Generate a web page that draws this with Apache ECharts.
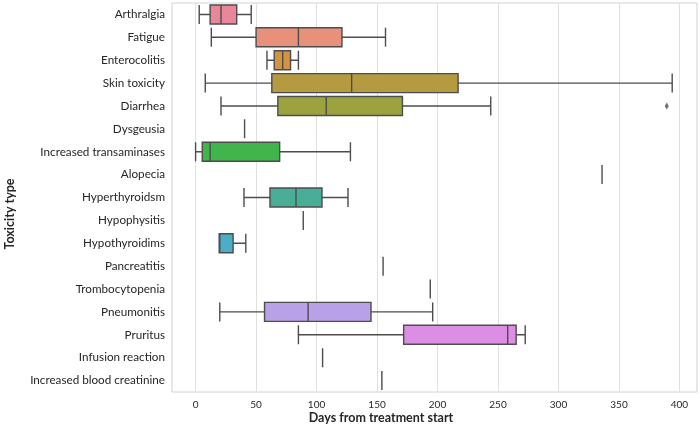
<!DOCTYPE html>
<html>
<head>
<meta charset="utf-8">
<script src="https://cdn.jsdelivr.net/npm/echarts@6/dist/echarts.min.js"></script>
<style>
    html, body { margin: 0; padding: 0; background: #fff; }
    #chart { width: 700px; height: 426px; }
</style>
</head>
<body>
<div id="chart"></div>
<script>
    // toxicity types, top to bottom
    var categories = ['Arthralgia', 'Fatigue', 'Enterocolitis', 'Skin toxicity', 'Diarrhea', 'Dysgeusia',
        'Increased transaminases', 'Alopecia', 'Hyperthyroidsm', 'Hypophysitis', 'Hypothyroidims',
        'Pancreatitis', 'Trombocytopenia', 'Pneumonitis', 'Pruritus', 'Infusion reaction',
        'Increased blood creatinine'];

    // box statistics (days from treatment start)
    var lowWhisker  = [3, 13, 59, 8, 21, 40.5, 0, 336, 40, 89, 19.5, 155, 194, 20, 85, 105, 154];
    var q1          = [12, 50, 65, 63, 68, 40.5, 5.5, 336, 61.5, 89, 19.5, 155, 194, 57, 172, 105, 154];
    var medians     = [21, 85, 72, 129, 108, 40.5, 12, 336, 83, 89, 20, 155, 194, 93, 258, 105, 154];
    var q3          = [34, 121, 78.5, 217, 171, 40.5, 69.5, 336, 104.5, 89, 31, 155, 194, 145, 265, 105, 154];
    var highWhisker = [46, 157, 85, 394, 244, 40.5, 128, 336, 126, 89, 41.5, 155, 194, 196, 272.5, 105, 154];

    // outliers: [value, category]
    var outliers = [[389.5, 'Diarrhea']];

    var xTicks = [0, 50, 100, 150, 200, 250, 300, 350, 400];

    var colors = ['#e8879a', '#e8907a', '#d4933f', '#b59a40', '#9ba23e', '#86a63e',
        '#3fb54c', '#45b07c', '#48ae98', '#48adab', '#4aafc6', '#4aa7d6',
        '#7ea4e6', '#b9a1e8', '#dc8ee4', '#e48cc4', '#e88aa8'];

    var lineColor = '#4d4d4d';
    var fontFamily = 'Lato, "Open Sans", sans-serif';

    var boxData = categories.map(function (c, i) {
        return {
            value: [lowWhisker[i], q1[i], medians[i], q3[i], highWhisker[i]],
            itemStyle: { color: colors[i] }
        };
    });

    var myChart = echarts.init(document.getElementById('chart'), null, { renderer: 'canvas' });

    var option = {
        backgroundColor: '#fff',
        animation: false,
        grid: {
            left: 172,
            right: 3,
            top: 3,
            bottom: 34,
            show: true,
            borderColor: '#d2d2d2',
            borderWidth: 1
        },
        xAxis: {
            type: 'value',
            min: -19.5,
            max: 414.5,
            axisLine: { show: false },
            axisTick: { show: false, customValues: xTicks },
            axisLabel: {
                customValues: xTicks,
                color: '#262626',
                fontSize: 10,
                fontFamily: fontFamily,
                margin: 8
            },
            splitLine: {
                show: true,
                lineStyle: { color: '#e0e0e0', width: 1 }
            }
        },
        yAxis: {
            type: 'category',
            data: categories,
            inverse: true,
            axisLine: { show: false },
            axisTick: { show: false },
            axisLabel: {
                color: '#262626',
                fontSize: 11.7,
                fontFamily: fontFamily,
                margin: 7
            },
            splitLine: { show: false }
        },
        graphic: [
            {
                type: 'text',
                x: 381,
                y: 418,
                style: {
                    text: 'Days from treatment start',
                    fontSize: 12.5,
                    fontWeight: 'bold',
                    fontFamily: fontFamily,
                    fill: '#262626',
                    align: 'center',
                    verticalAlign: 'middle'
                }
            },
            {
                type: 'text',
                x: 10,
                y: 214,
                rotation: Math.PI / 2,
                style: {
                    text: 'Toxicity type',
                    fontSize: 12.5,
                    fontWeight: 'bold',
                    fontFamily: fontFamily,
                    fill: '#262626',
                    align: 'center',
                    verticalAlign: 'middle'
                }
            }
        ],
        series: [
            {
                name: 'toxicity',
                type: 'boxplot',
                layout: 'horizontal',
                boxWidth: [19, 19],
                itemStyle: {
                    borderColor: lineColor,
                    borderWidth: 1.4
                },
                emphasis: { disabled: true },
                data: boxData
            },
            {
                name: 'outliers',
                type: 'scatter',
                symbol: 'diamond',
                symbolSize: [4, 7],
                itemStyle: { color: lineColor },
                data: outliers
            }
        ]
    };

    myChart.setOption(option);
</script>
</body>
</html>
